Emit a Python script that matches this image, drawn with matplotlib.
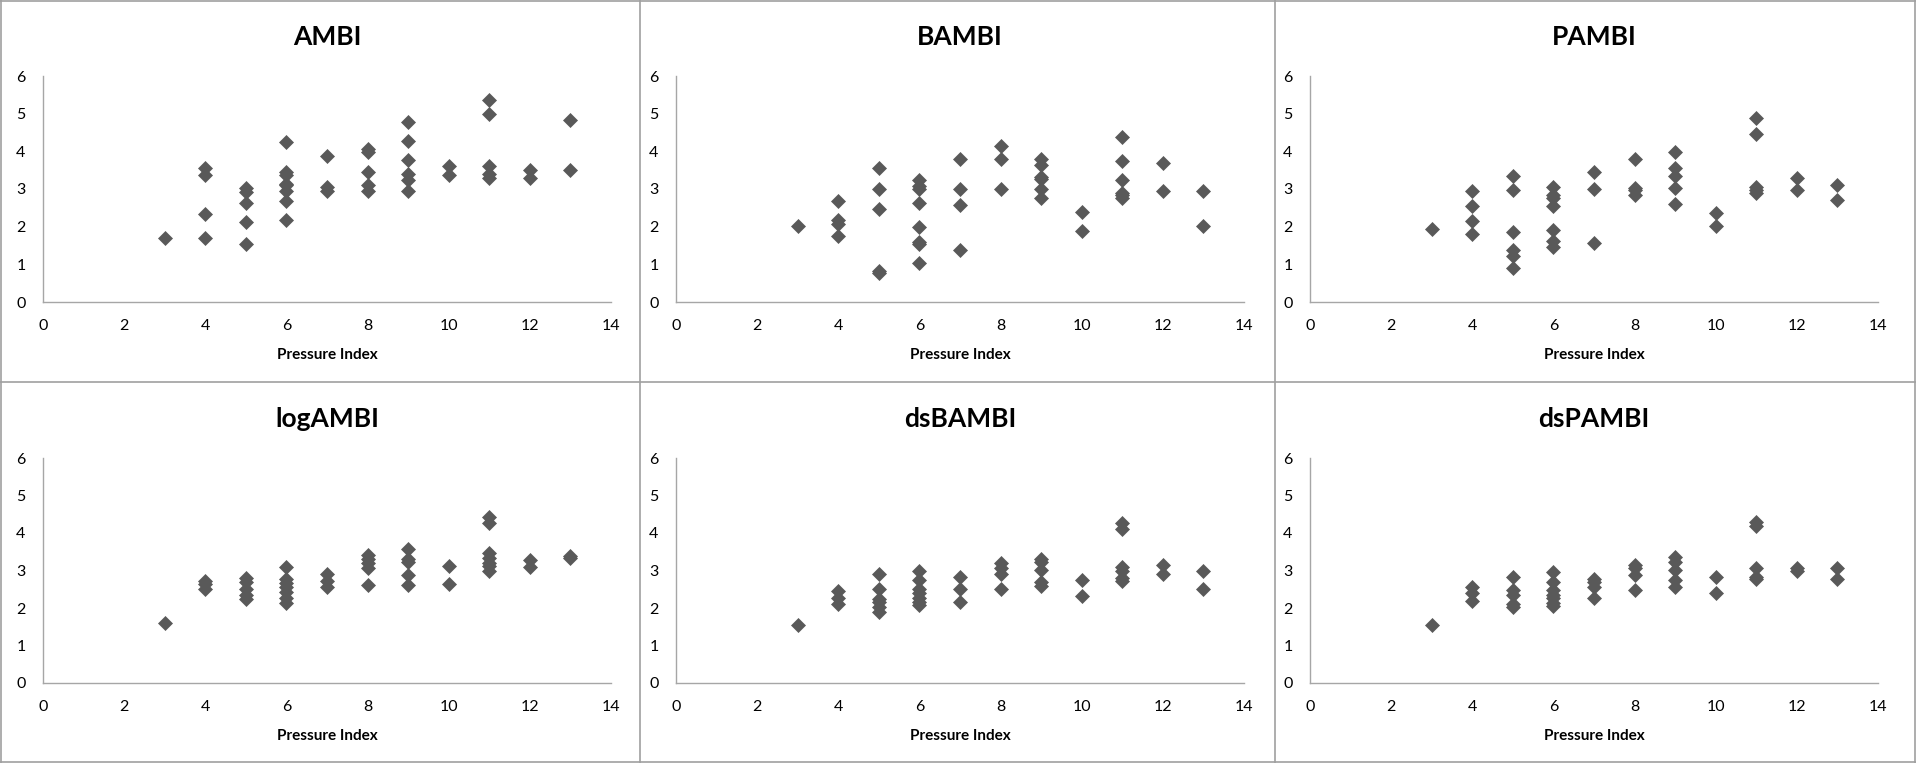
import matplotlib.pyplot as plt
from matplotlib.lines import Line2D

plt.rcParams['font.family'] = ['Lato', 'DejaVu Sans']

titles = ['AMBI', 'BAMBI', 'PAMBI', 'logAMBI', 'dsBAMBI', 'dsPAMBI']

# (pressure index, score) per panel
ambi_x = [3, 4, 4, 4, 4, 5, 5, 5, 5, 5, 6, 6, 6, 6, 6, 6, 6, 6, 7, 7, 7,
          8, 8, 8, 8, 8, 9, 9, 9, 9, 9, 9, 10, 10, 11, 11, 11, 11, 11, 12, 12, 13, 13]
ambi_y = [1.70, 3.57, 3.37, 2.34, 1.70, 3.03, 2.92, 2.63, 2.12, 1.55,
          4.26, 3.46, 3.38, 3.14, 3.10, 2.94, 2.67, 2.19, 3.88, 3.05, 2.96,
          4.06, 3.97, 3.46, 3.10, 2.95, 4.78, 4.28, 3.78, 3.41, 3.23, 2.96,
          3.62, 3.37, 5.35, 4.99, 3.62, 3.41, 3.28, 3.50, 3.28, 4.84, 3.50]

bambi_x = [3, 4, 4, 4, 4, 5, 5, 5, 5, 5, 6, 6, 6, 6, 6, 6, 6, 6, 7, 7, 7, 7,
           8, 8, 8, 9, 9, 9, 9, 9, 9, 10, 10, 11, 11, 11, 11, 11, 11, 12, 12, 13, 13]
bambi_y = [2.01, 2.67, 2.19, 2.07, 1.74, 3.56, 3.01, 2.46, 0.82, 0.76,
           3.23, 3.07, 3.01, 2.63, 1.98, 1.60, 1.54, 1.03, 3.79, 2.99, 2.58, 1.38,
           4.14, 3.79, 3.01, 3.79, 3.63, 3.32, 3.26, 2.99, 2.76, 2.38, 1.88,
           4.39, 3.75, 3.23, 2.90, 2.83, 2.76, 3.69, 2.96, 2.96, 2.01]

pambi_x = [3, 4, 4, 4, 4, 5, 5, 5, 5, 5, 5, 6, 6, 6, 6, 6, 6, 6, 7, 7, 7,
           8, 8, 8, 8, 9, 9, 9, 9, 9, 10, 10, 11, 11, 11, 11, 11, 12, 12, 13, 13]
pambi_y = [1.93, 2.96, 2.55, 2.14, 1.80, 3.34, 2.98, 1.85, 1.38, 1.22, 0.91,
           3.04, 2.83, 2.76, 2.54, 1.91, 1.63, 1.47, 3.44, 2.99, 1.57,
           3.79, 3.03, 2.98, 2.85, 3.97, 3.56, 3.34, 3.03, 2.59, 2.37, 2.01,
           4.88, 4.46, 3.05, 2.98, 2.90, 3.29, 2.98, 3.10, 2.72]

logambi_x = [3, 4, 4, 4, 5, 5, 5, 5, 5, 6, 6, 6, 6, 6, 6, 6, 7, 7, 7,
             8, 8, 8, 8, 8, 9, 9, 9, 9, 9, 10, 10, 11, 11, 11, 11, 11, 11, 11,
             12, 12, 13, 13]
logambi_y = [1.60, 2.72, 2.63, 2.51, 2.81, 2.69, 2.50, 2.34, 2.25,
             3.09, 2.78, 2.66, 2.56, 2.42, 2.27, 2.14, 2.90, 2.72, 2.56,
             3.41, 3.30, 3.19, 3.07, 2.62, 3.58, 3.32, 3.23, 2.88, 2.62,
             3.12, 2.64, 4.44, 4.28, 3.48, 3.34, 3.21, 3.12, 3.00,
             3.27, 3.09, 3.40, 3.34]

dsbambi_x = [3, 4, 4, 4, 5, 5, 5, 5, 5, 5, 6, 6, 6, 6, 6, 6, 6, 7, 7, 7,
             8, 8, 8, 8, 9, 9, 9, 9, 9, 10, 10, 11, 11, 11, 11, 11, 11,
             12, 12, 13, 13]
dsbambi_y = [1.54, 2.45, 2.27, 2.12, 2.92, 2.52, 2.25, 2.16, 2.03, 1.90,
             2.99, 2.76, 2.51, 2.39, 2.27, 2.16, 2.08, 2.83, 2.52, 2.17,
             3.19, 3.07, 2.90, 2.50, 3.32, 3.23, 3.01, 2.69, 2.60,
             2.76, 2.32, 4.26, 4.10, 3.09, 3.00, 2.81, 2.72,
             3.15, 2.91, 3.00, 2.52]

dspambi_x = [3, 4, 4, 4, 5, 5, 5, 5, 5, 6, 6, 6, 6, 6, 6, 6, 7, 7, 7, 7,
             8, 8, 8, 8, 9, 9, 9, 9, 9, 10, 10, 11, 11, 11, 11, 11,
             12, 12, 13, 13]
dspambi_y = [1.54, 2.55, 2.39, 2.19, 2.84, 2.48, 2.36, 2.12, 2.03,
             2.97, 2.70, 2.48, 2.36, 2.26, 2.14, 2.06, 2.78, 2.69, 2.55, 2.27,
             3.15, 3.06, 2.88, 2.48, 3.36, 3.24, 3.02, 2.75, 2.57,
             2.84, 2.41, 4.30, 4.18, 3.08, 2.84, 2.78,
             3.08, 2.99, 3.08, 2.78]

xs = [ambi_x, bambi_x, pambi_x, logambi_x, dsbambi_x, dspambi_x]
ys = [ambi_y, bambi_y, pambi_y, logambi_y, dsbambi_y, dspambi_y]

x_ticks = [0, 2, 4, 6, 8, 10, 12, 14]
y_ticks = [0, 1, 2, 3, 4, 5, 6]

W, H = 1916, 763
fig = plt.figure(figsize=(W / 100, H / 100), dpi=100)

lefts = [43, 676, 1310]
ax_w = 568
rows = [(76, 302), (458, 683)]

for i in range(6):
  r, c = divmod(i, 3)
  top, bot = rows[r]
  ax = fig.add_axes([lefts[c] / W, 1 - bot / H, ax_w / W, (bot - top) / H])
  ax.plot(xs[i], ys[i], 'D', color='#595959', ms=7, mec='#595959', mew=0.5,
          linestyle='none', clip_on=False)
  ax.set_xlim(0, 14)
  ax.set_ylim(0, 6)
  ax.set_xticks(x_ticks)
  ax.set_yticks(y_ticks)
  for s in ['top', 'right']:
    ax.spines[s].set_visible(False)
  for s in ['left', 'bottom']:
    ax.spines[s].set_color('#a6a6a6')
    ax.spines[s].set_linewidth(1.0)
  ax.tick_params(length=0, labelsize=11.5, colors='#000000')
  ax.tick_params(axis='x', pad=12.5)
  ax.tick_params(axis='y', pad=12.5)
  ax.set_xlabel('Pressure Index', fontsize=11, fontweight='bold', labelpad=10.5)
  ax.set_title(titles[i], fontsize=19, fontweight='bold', pad=22.5)

# panel borders
grey = '#a0a0a0'
fig.add_artist(Line2D([0, 1], [1 - 1 / H, 1 - 1 / H], color=grey, lw=1.2))
fig.add_artist(Line2D([0, 1], [1 - 382 / H, 1 - 382 / H], color=grey, lw=1.2))
fig.add_artist(Line2D([0, 1], [1 / H, 1 / H], color=grey, lw=1.2))
for xp in [1, 640, 1275, W - 1]:
  fig.add_artist(Line2D([xp / W, xp / W], [0, 1], color=grey, lw=1.2))

fig.savefig('out.png', dpi=100)
